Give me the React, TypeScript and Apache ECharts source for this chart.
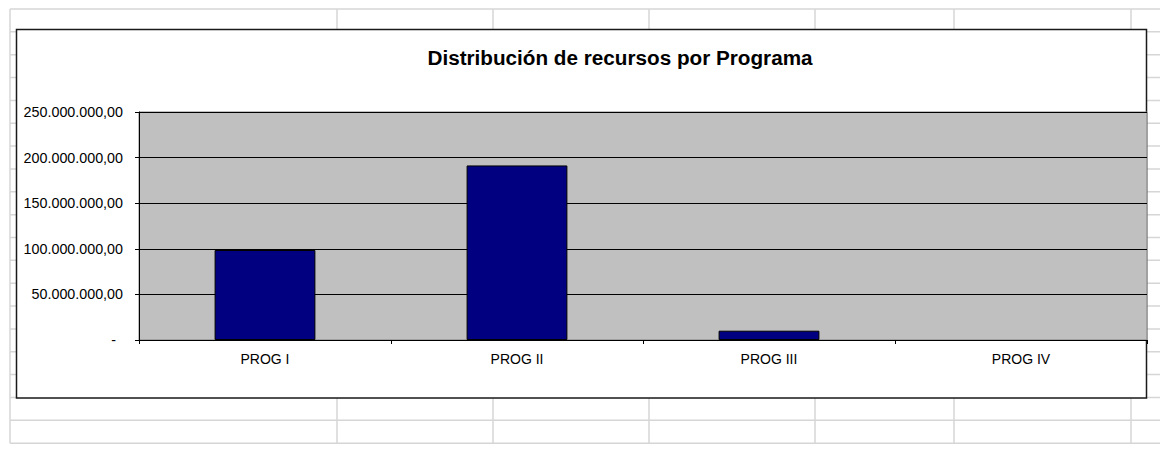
import React, { useEffect, useRef } from "react";
import * as echarts from "echarts";

const chartTitle = "Distribución de recursos por Programa";
const categories = ["PROG I", "PROG II", "PROG III", "PROG IV"];
const recursos = [98700000, 191400000, 10200000, 0];
const yMin = 0;
const yMax = 250000000;
const yStep = 50000000;

// decorative spreadsheet cell grid behind the chart
const sheetColumns = [10, 337, 493, 649, 815, 954, 1131];
const sheetRowTop = 9;
const sheetRowHeight = 22.85;
const sheetRowCount = 20;

function fmt(v: number): string {
  if (v === 0) return "{d|-}";
  const s = Math.round(v).toString();
  let out = "";
  for (let i = 0; i < s.length; i++) {
    const fromEnd = s.length - i;
    out += s[i];
    if (fromEnd > 1 && (fromEnd - 1) % 3 === 0) out += ".";
  }
  return out + ",00";
}

export default function App() {
  const ref = useRef<HTMLDivElement>(null);
  useEffect(() => {
    if (!ref.current) return;
    const chart = echarts.init(ref.current, undefined, { renderer: "svg" });
    const sheet: any[] = [];
    const lineStyle = { stroke: "#d6d6d6", lineWidth: 1.5 };
    for (let k = 0; k < sheetRowCount; k++) {
      const y = sheetRowTop + k * sheetRowHeight;
      sheet.push({ type: "line", z: -20, shape: { x1: 10, y1: y, x2: 1160, y2: y }, style: lineStyle, silent: true });
    }
    sheetColumns.forEach((x) => {
      sheet.push({ type: "line", z: -20, shape: { x1: x, y1: 9, x2: x, y2: 9 + (sheetRowCount - 1) * sheetRowHeight }, style: lineStyle, silent: true });
    });
    sheet.push({
      type: "rect",
      z: -10,
      shape: { x: 16.5, y: 29.5, width: 1130, height: 368.5 },
      style: { fill: "#ffffff", stroke: "#1a1a1a", lineWidth: 1.5 },
      silent: true,
    });
    const font = "'Liberation Sans', Arial, sans-serif";
    chart.setOption({
      animation: false,
      backgroundColor: "#ffffff",
      title: {
        text: chartTitle,
        left: 620,
        top: 47,
        textAlign: "center",
        padding: 0,
        textStyle: { fontFamily: font, fontSize: 20.7, fontWeight: "bold", color: "#000" },
      },
      graphic: { elements: sheet },
      grid: {
        left: 139,
        top: 112,
        right: 13,
        bottom: 111,
        show: true,
        backgroundColor: "#c0c0c0",
        borderColor: "#808080",
        borderWidth: 1,
      },
      xAxis: {
        type: "category",
        data: categories,
        boundaryGap: true,
        axisLine: { show: true, lineStyle: { color: "#000", width: 1 } },
        axisTick: { show: true, length: 4, alignWithLabel: false, lineStyle: { color: "#000" } },
        axisLabel: { margin: 12, color: "#000", fontFamily: font, fontSize: 14 },
        splitLine: { show: false },
      },
      yAxis: {
        type: "value",
        min: yMin,
        max: yMax,
        interval: yStep,
        axisLine: { show: true, lineStyle: { color: "#000", width: 1 } },
        axisTick: { show: true, length: 4, lineStyle: { color: "#000" } },
        axisLabel: {
          margin: 16,
          color: "#000",
          fontFamily: font,
          fontSize: 14.3,
          formatter: (v: number) => fmt(v),
          rich: { d: { color: "#000", fontFamily: font, fontSize: 14.3, padding: [0, 7, 0, 0] } },
        },
        splitLine: { show: true, lineStyle: { color: "#000", width: 1 } },
      },
      series: [
        {
          type: "bar",
          data: recursos.map((v) => (v === 0 ? { value: v, itemStyle: { borderWidth: 0 } } : v)),
          barWidth: "40%",
          itemStyle: { color: "#000080", borderColor: "#000", borderWidth: 1 },
        },
      ],
    });
    return () => chart.dispose();
  }, []);
  return (
    <div
      ref={ref}
      style={{ position: "fixed", left: 0, top: 0, width: 1160, height: 451 }}
    />
  );
}
